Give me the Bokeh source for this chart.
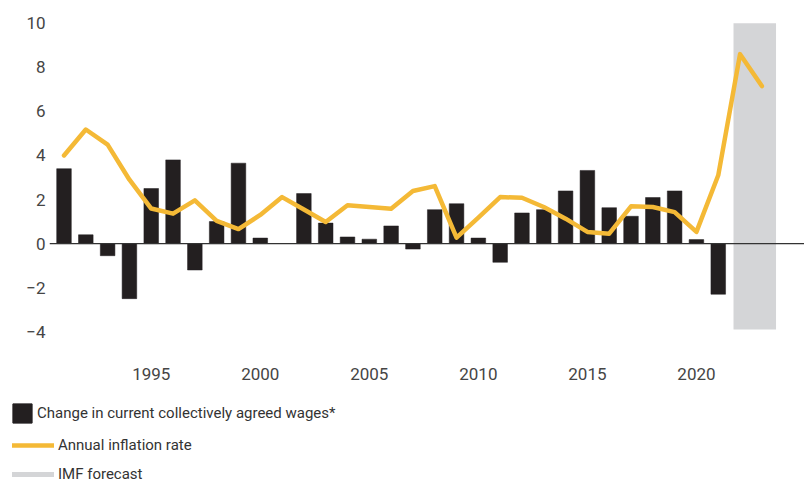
from bokeh.plotting import figure
from bokeh.layouts import column
from bokeh.models import Range1d, FixedTicker, Span, Legend, LegendItem, ColumnDataSource
from bokeh.embed import file_html
from bokeh.resources import INLINE

# ---- data ----
wage_years = list(range(1991, 2022))
wage_change = [3.4, 0.4, -0.55, -2.5, 2.5, 3.8, -1.2, 1.0, 3.65, 0.25,
               float("nan"), 2.27, 0.93, 0.3, 0.2, 0.8, -0.25, 1.54, 1.81, 0.25,
               -0.85, 1.39, 1.54, 2.39, 3.32, 1.63, 1.24, 2.09, 2.39, 0.18, -2.3]

infl_years = list(range(1991, 2024))
inflation = [4.0, 5.18, 4.49, 2.9, 1.59, 1.36, 1.96, 1.03, 0.66, 1.3,
             2.11, 1.55, 0.98, 1.74, 1.66, 1.58, 2.39, 2.61, 0.27, 1.18,
             2.11, 2.08, 1.66, 1.13, 0.53, 0.45, 1.69, 1.66, 1.43, 0.53,
             3.1, 8.6, 7.15]

forecast_years = [2022, 2023]
forecast_low, forecast_high = -3.9, 10.0

y_ticks = [-4, -2, 0, 2, 4, 6, 8, 10]
x_ticks = [1995, 2000, 2005, 2010, 2015, 2020]

legend_labels = ["Change in current collectively agreed wages*",
                 "Annual inflation rate",
                 "IMF forecast"]

FONT = "Roboto"
BAR = "#231f20"
GOLD = "#f4b936"
GREY = "#d4d5d7"

wage_src = ColumnDataSource(data=dict(x=wage_years, top=wage_change))
infl_src = ColumnDataSource(data=dict(x=infl_years, y=inflation))
fc_src = ColumnDataSource(data=dict(x=forecast_years, y=[forecast_high] * len(forecast_years)))

p = figure(width=804, height=388, output_backend="svg", toolbar_location=None,
           x_range=Range1d(1990.335, 2024.955), y_range=Range1d(-4.4, 10.4),
           min_border_left=49, min_border_right=0, min_border_top=14, min_border_bottom=48)
p.outline_line_color = None
p.grid.visible = False
p.background_fill_color = "white"

# forecast band
p.quad(left=[forecast_years[0] - 0.3], right=[forecast_years[-1] + 0.65],
       bottom=[forecast_low], top=[forecast_high],
       fill_color=GREY, line_color=None)

p.vbar(x="x", top="top", source=wage_src, width=0.67, bottom=0,
       fill_color=BAR, line_color=BAR, line_width=0.5)

p.add_layout(Span(location=0, dimension="width", line_color="#333333", line_width=1.2))

p.line("x", "y", source=infl_src, line_color=GOLD, line_width=4.5,
       line_join="round", line_cap="round")

# axes
for ax in (p.xaxis[0], p.yaxis[0]):
    ax.axis_line_color = None
    ax.major_tick_line_color = None
    ax.minor_tick_line_color = None
    ax.major_tick_out = 0
    ax.major_tick_in = 0
    ax.major_label_text_font = FONT
    ax.major_label_text_font_size = "17px"
    ax.major_label_text_color = "#454545"

p.yaxis[0].ticker = FixedTicker(ticks=y_ticks)
p.yaxis[0].major_label_standoff = 4
p.xaxis[0].ticker = FixedTicker(ticks=x_ticks)
p.xaxis[0].major_label_standoff = 27

# ---- legend panel (series renderers kept out of view; only their legend swatches show) ----
lf = figure(width=804, height=94, output_backend="svg", toolbar_location=None,
            x_range=Range1d(0, 1), y_range=Range1d(0, 1),
            x_axis_location=None, y_axis_location=None,
            min_border_left=0, min_border_right=0, min_border_top=0, min_border_bottom=0)
lf.outline_line_color = None
lf.grid.visible = False
if "frame_align" in lf.properties():
    lf.frame_align = False

r_bar = lf.vbar(x="x", top="top", source=wage_src, width=0.67, fill_color=BAR, line_color=BAR)
r_line = lf.line("x", "y", source=infl_src, line_color=GOLD, line_width=4.5, line_cap="round")
r_grey = lf.line("x", "y", source=fc_src, line_color=GREY, line_width=5, line_cap="round")


def make_legend(label, rend, loc, gw, gh, standoff):
    lg = Legend(items=[LegendItem(label=label, renderers=[rend])], location=loc,
                glyph_width=gw, glyph_height=gh, label_standoff=standoff,
                label_height=gh, padding=0, margin=0, spacing=0,
                background_fill_alpha=0, border_line_color=None,
                label_text_font=FONT, label_text_font_size="15px",
                label_text_color="#333333")
    lf.add_layout(lg)
    return lg


make_legend(legend_labels[0], r_bar, (10, 57), 24, 24, 3)
make_legend(legend_labels[1], r_line, (12, 28), 42, 18, 4)
make_legend(legend_labels[2], r_grey, (12, -1), 42, 16, 4)

open("out.html", "w").write(file_html(column(p, lf, spacing=0), INLINE))
